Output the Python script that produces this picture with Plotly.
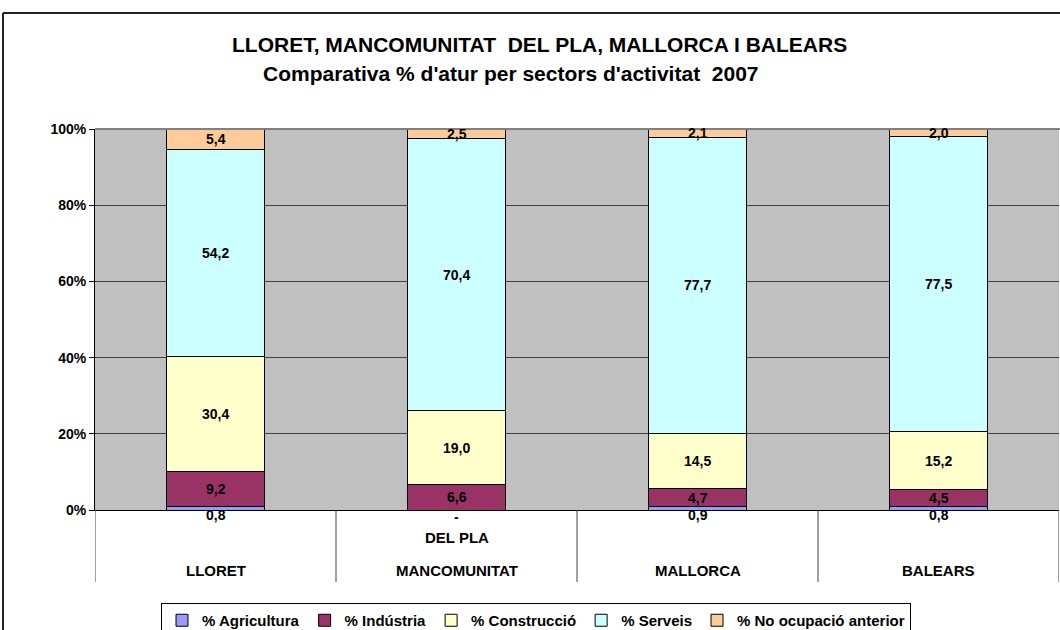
import plotly.graph_objects as go

# ---- data ----
categories = ["LLORET", "MANCOMUNITAT DEL PLA", "MALLORCA", "BALEARS"]
series_names = ["% Agricultura", "% Indústria", "% Construcció", "% Serveis", "% No ocupació anterior"]
agricultura = [0.8, 0.0, 0.9, 0.8]
industria = [9.2, 6.6, 4.7, 4.5]
construccio = [30.4, 19.0, 14.5, 15.2]
serveis = [54.2, 70.4, 77.7, 77.5]
no_ocupacio = [5.4, 2.5, 2.1, 2.0]
y_ticks = [0, 20, 40, 60, 80, 100]
y_tick_labels = ["0%", "20%", "40%", "60%", "80%", "100%"]
title_line1 = "LLORET, MANCOMUNITAT  DEL PLA, MALLORCA I BALEARS"
title_line2 = "Comparativa % d'atur per sectors d'activitat  2007"

series_values = [agricultura, industria, construccio, serveis, no_ocupacio]
colors = ["#9999FF", "#993366", "#FFFFCC", "#CCFFFF", "#FFCC99"]

FONT = "Arial, Liberation Sans, sans-serif"

# page geometry (the page body margin is removed, figure at 0,0)
W, H = 1060, 630
PLOT_L, PLOT_R, PLOT_T, PLOT_B = 95, 1059, 129, 510   # in page pixels
L, T = PLOT_L, PLOT_T
R = W - PLOT_R
B = H - PLOT_B
PW = PLOT_R - PLOT_L
PH = PLOT_B - PLOT_T


def px_x(px):
    return (px - PLOT_L) / PW


def px_y(py):
    return (PLOT_B - py) / PH


fig = go.Figure()
for name, vals, col in zip(series_names, series_values, colors):
    fig.add_trace(go.Bar(
        name=name, x=categories, y=vals,
        marker=dict(color=col, line=dict(color="black", width=1)),
        width=0.41, hoverinfo="x+y",
    ))

annotations = []
# data labels at segment centres (normalised to 100%)
for ci, cat in enumerate(categories):
    total = sum(s[ci] for s in series_values)
    cum = 0.0
    for si, vals in enumerate(series_values):
        v = vals[ci]
        centre = (cum + v / 2) / total * 100
        cum += v
        txt = "-" if v == 0 else f"{v:.1f}".replace(".", ",")
        annotations.append(dict(
            x=cat, y=centre, xref="x", yref="y", text=txt, showarrow=False,
            xanchor="center", yanchor="middle",
            font=dict(family=FONT, size=14, color="black", weight="bold"),
            yshift=-7 if si == 0 else 0,
        ))

# category labels (first word at bottom, rest on the line above)
for cat in categories:
    parts = cat.split(" ", 1)
    annotations.append(dict(
        x=cat, y=px_y(570), xref="x", yref="paper", text=parts[0], showarrow=False,
        xanchor="center", yanchor="middle",
        font=dict(family=FONT, size=15, color="black", weight="bold"),
    ))
    if len(parts) > 1:
        annotations.append(dict(
            x=cat, y=px_y(537), xref="x", yref="paper", text=parts[1], showarrow=False,
            xanchor="center", yanchor="middle",
            font=dict(family=FONT, size=15, color="black", weight="bold"),
        ))

# titles
annotations.append(dict(
    x=px_x(539), y=px_y(44), xref="paper", yref="paper", text=title_line1, showarrow=False,
    xanchor="center", yanchor="middle",
    font=dict(family=FONT, size=21, color="black", weight="bold"),
))
annotations.append(dict(
    x=px_x(511), y=px_y(74), xref="paper", yref="paper", text=title_line2, showarrow=False,
    xanchor="center", yanchor="middle",
    font=dict(family=FONT, size=21, color="black", weight="bold"),
))

shapes = []
# category separators below the axis
for i in range(len(categories) + 1):
    shapes.append(dict(
        type="line", xref="x", yref="paper", x0=i - 0.5, x1=i - 0.5,
        y0=0, y1=px_y(582), line=dict(color="#404040", width=1),
    ))
# plot-area top border
shapes.append(dict(type="line", xref="paper", yref="paper", x0=0, x1=1.01,
                   y0=1, y1=1, line=dict(color="#808080", width=2)))
# outer chart border (left and top)
shapes.append(dict(type="line", xref="paper", yref="paper", x0=px_x(3), x1=px_x(3),
                   y0=px_y(13), y1=px_y(650), line=dict(color="#222222", width=2)))
shapes.append(dict(type="line", xref="paper", yref="paper", x0=px_x(3), x1=px_x(1075),
                   y0=px_y(13), y1=px_y(13), line=dict(color="#222222", width=2)))

fig.update_layout(
    width=W, height=H,
    margin=dict(l=L, r=R, t=T, b=B, autoexpand=False),
    barmode="stack", barnorm="percent",
    paper_bgcolor="white", plot_bgcolor="#C0C0C0",
    font=dict(family=FONT, color="black"),
    showlegend=True,
    legend=dict(
        orientation="h", x=px_x(536), xanchor="center", y=px_y(603), yanchor="top",
        bgcolor="white", bordercolor="black", borderwidth=1,
        font=dict(family=FONT, size=15, color="black", weight="bold"),
        traceorder="normal", itemclick=False, itemdoubleclick=False,
    ),
    annotations=annotations,
    shapes=shapes,
    xaxis=dict(
        showticklabels=False, showgrid=False, zeroline=False,
        showline=True, linecolor="black", linewidth=1,
        range=[-0.5, len(categories) - 0.5], fixedrange=True,
    ),
    yaxis=dict(
        range=[0, 100], tickvals=y_ticks, ticktext=y_tick_labels,
        tickfont=dict(family=FONT, size=14, color="black", weight="bold"),
        showgrid=True, gridcolor="#404040", gridwidth=1,
        zeroline=False, showline=True, linecolor="black", linewidth=1,
        ticks="outside", ticklen=5, tickcolor="black", fixedrange=True,
    ),
)

fig.write_html(
    "out.html",
    config={"displayModeBar": False},
    post_script="document.body.style.margin='0';document.body.style.overflow='hidden';",
)
